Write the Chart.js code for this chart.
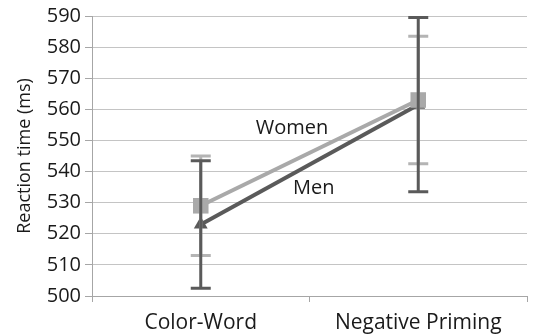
<!DOCTYPE html>
<html>
<head>
<meta charset="utf-8">
<script src="https://cdn.jsdelivr.net/npm/chart.js@4"></script>
<style>
  html, body { margin: 0; padding: 0; background: #fff; }
  #wrap { width: 538px; height: 335px; }
</style>
</head>
<body>
<div id="wrap"><canvas id="chart" width="538" height="335"></canvas></div>
<script>
// chart data
const categories = ['Color-Word', 'Negative Priming'];
const womenMeans = [529, 563];
const womenErrors = [16, 20.5];
const menMeans = [523, 561.5];
const menErrors = [20.5, 28];
const yMin = 500;
const yMax = 590;
const yStep = 10;

const menColor = '#5a5a5a';
const womenColor = '#a9a9a9';
const textColor = '#1a1a1a';
const fontFamily = '"Open Sans", "Liberation Sans", sans-serif';

// error bars drawn over the lines
const errorBars = {
  id: 'errorBars',
  afterDatasetsDraw(chart) {
    const ctx = chart.ctx;
    const yScale = chart.scales.y;
    chart.data.datasets.forEach((ds, i) => {
      const meta = chart.getDatasetMeta(i);
      ctx.save();
      ctx.strokeStyle = ds.errorColor;
      ctx.lineWidth = 3;
      meta.data.forEach((pt, j) => {
        const top = yScale.getPixelForValue(ds.data[j] + ds.errors[j]);
        const bottom = yScale.getPixelForValue(ds.data[j] - ds.errors[j]);
        const x = pt.x;
        ctx.beginPath();
        ctx.moveTo(x, top);
        ctx.lineTo(x, bottom);
        ctx.moveTo(x - 10, top);
        ctx.lineTo(x + 10, top);
        ctx.moveTo(x - 10, bottom);
        ctx.lineTo(x + 10, bottom);
        ctx.stroke();
      });
      ctx.restore();
    });
  }
};

// series names written next to the lines
const seriesNames = {
  id: 'seriesNames',
  afterDraw(chart) {
    const ctx = chart.ctx;
    const xs = chart.scales.x;
    const ys = chart.scales.y;
    const x0 = xs.getPixelForValue(0);
    const x1 = xs.getPixelForValue(1);
    const at = f => x0 + (x1 - x0) * f;
    ctx.save();
    ctx.fillStyle = textColor;
    ctx.font = '20px ' + fontFamily;
    ctx.textAlign = 'center';
    ctx.textBaseline = 'middle';
    ctx.fillText('Women', at(0.42), ys.getPixelForValue(554));
    ctx.fillText('Men', at(0.52), ys.getPixelForValue(534.5));
    ctx.restore();
  }
};

new Chart(document.getElementById('chart'), {
  type: 'line',
  data: {
    labels: categories,
    datasets: [
      {
        label: 'Women',
        data: womenMeans,
        errors: womenErrors,
        errorColor: '#b4b4b4',
        borderColor: womenColor,
        backgroundColor: womenColor,
        borderWidth: 4,
        pointStyle: 'rect',
        pointRadius: 11,
        pointBorderWidth: 0
      },
      {
        label: 'Men',
        data: menMeans,
        errors: menErrors,
        errorColor: menColor,
        borderColor: menColor,
        backgroundColor: menColor,
        borderWidth: 4,
        pointStyle: 'triangle',
        pointRadius: 8,
        pointBorderWidth: 0
      }
    ]
  },
  options: {
    responsive: false,
    animation: false,
    layout: { padding: { top: 9, right: 0, left: 14, bottom: 0 } },
    plugins: {
      legend: { display: false },
      tooltip: { enabled: false }
    },
    scales: {
      x: {
        offset: true,
        afterFit(scale) { scale.height = 39; },
        grid: {
          offset: true,
          drawOnChartArea: false,
          drawTicks: true,
          tickLength: 6,
          color: '#a6a6a6'
        },
        border: { color: '#a6a6a6', width: 1 },
        ticks: {
          color: textColor,
          font: { family: fontFamily, size: 21 },
          padding: 8,
          maxRotation: 0
        }
      },
      y: {
        min: yMin,
        max: yMax,
        afterFit(scale) { scale.width = 78; },
        grid: {
          color: '#c4c4c4',
          tickLength: 7,
          tickColor: '#a6a6a6'
        },
        border: { color: '#a6a6a6', width: 1 },
        ticks: {
          stepSize: yStep,
          color: textColor,
          font: { family: fontFamily, size: 20 },
          padding: 4
        },
        title: {
          display: true,
          text: 'Reaction time (ms)',
          color: textColor,
          font: { family: fontFamily, size: 18 },
          padding: 0
        }
      }
    }
  },
  plugins: [errorBars, seriesNames]
});
</script>
</body>
</html>
